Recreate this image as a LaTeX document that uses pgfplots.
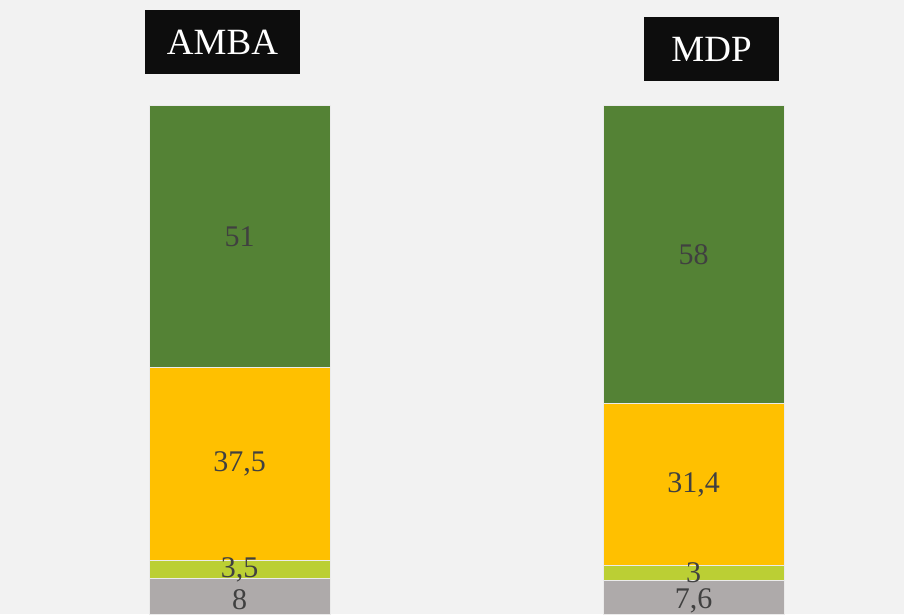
\documentclass[border=0pt]{standalone}
\usepackage{pgfplots}
\pgfplotsset{compat=1.18}
\usepackage{fontspec}
\setmainfont{Liberation Serif}
\definecolor{bgc}{HTML}{F2F2F2}
\definecolor{cgreen}{HTML}{548235}
\definecolor{cyellow}{HTML}{FFC000}
\definecolor{clime}{HTML}{BBCF34}
\definecolor{cgray}{HTML}{AEAAAA}
\definecolor{ctext}{HTML}{404040}
\definecolor{cbox}{HTML}{0D0D0D}
\begin{document}
\begin{tikzpicture}
\begin{axis}[
  at={(0,0)}, anchor=south west,
  scale only axis, width=904pt, height=614pt,
  xmin=0, xmax=904, ymin=1.17, ymax=120.39,
  axis line style={draw=none}, ticks=none,
  axis background/.style={fill=bgc},
  ybar stacked, bar width=181,
  every axis plot/.append style={draw={rgb,255:red,235;green,235;blue,235}, line width=0.8pt},
  nodes near coords,
  every node near coord/.append style={anchor=center,
     font=\fontsize{30}{36}\selectfont, text=ctext},
  /pgf/number format/use comma,
  /pgf/number format/assume math mode=true,
]
\addplot[fill=cgray] coordinates {(239.5,8) (693.5,7.6)};
\addplot[fill=clime] coordinates {(239.5,3.5) (693.5,3)};
\addplot[fill=cyellow] coordinates {(239.5,37.5) (693.5,31.4)};
\addplot[fill=cgreen] coordinates {(239.5,51) (693.5,58)};
\node[fill=cbox, text=white, minimum width=155pt, minimum height=64pt, inner sep=0pt,
  font=\fontsize{37}{44}\selectfont] at (rel axis cs:{222.5/904},{1-42/614}) {AMBA};
\node[fill=cbox, text=white, minimum width=135pt, minimum height=64pt, inner sep=0pt,
  font=\fontsize{37}{44}\selectfont] at (rel axis cs:{711.5/904},{1-49/614}) {MDP};
\coordinate (ll) at (rel axis cs:0,0);
\coordinate (ur) at (rel axis cs:1,1);
\end{axis}
\pgfresetboundingbox
\useasboundingbox (ll) rectangle (ur);
\end{tikzpicture}
\end{document}
